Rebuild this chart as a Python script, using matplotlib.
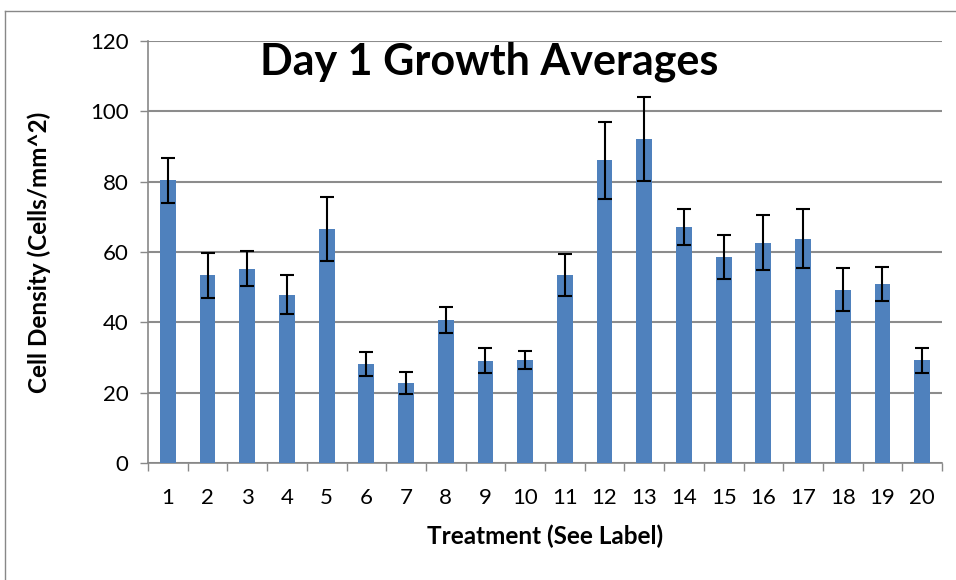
import numpy as np
import matplotlib.pyplot as plt
from matplotlib.lines import Line2D

plt.rcParams['font.family'] = ['Lato', 'DejaVu Sans']

treatments = list(range(1, 21))
means = [80.4, 53.4, 55.3, 47.9, 66.6, 28.2, 22.8, 40.8, 29.1, 29.3,
         53.5, 86.1, 92.1, 67.1, 58.6, 62.6, 63.8, 49.3, 50.9, 29.2]
errors = [6.4, 6.4, 5.1, 5.6, 9.1, 3.4, 3.1, 3.7, 3.5, 2.6,
          6.0, 11.0, 12.0, 5.1, 6.2, 7.8, 8.3, 6.2, 4.7, 3.6]
yticks = [0, 20, 40, 60, 80, 100, 120]

fig = plt.figure(figsize=(9.56, 5.8), dpi=100)
ax = fig.add_axes([148/956, 1-463/580, (942-148)/956, (463-41)/580])

ax.bar(treatments, means, width=0.4, color='#4F81BD', zorder=3)
ax.errorbar(treatments, means, yerr=errors, fmt='none', ecolor='black',
            elinewidth=1.5, capsize=5, capthick=1.5, zorder=4)

ax.set_xlim(0.5, 20.5)
ax.set_ylim(0, 120)
ax.set_yticks(yticks)
ax.set_xticks(treatments)
ax.set_xticks(np.arange(0.5, 21, 1), minor=True)
ax.tick_params(axis='x', which='major', length=0, labelsize=16, pad=18)
ax.tick_params(axis='x', which='minor', length=6, color='#888888', width=1)
ax.tick_params(axis='y', length=6, color='#888888', width=1, labelsize=16, pad=8)
ax.grid(axis='y', color='#8c8c8c', linewidth=1.5, zorder=0)
for s in ['top', 'right']:
    ax.spines[s].set_visible(False)
for s in ['left', 'bottom']:
    ax.spines[s].set_color('#888888')
    ax.spines[s].set_linewidth(1.2)

ax.set_xlabel('Treatment (See Label)', fontsize=17.5, fontweight='bold', labelpad=12)
ax.set_ylabel('Cell Density (Cells/mm^2)', fontsize=17.5, fontweight='bold', labelpad=28)
ax.text(0.43, 0.95, 'Day 1 Growth Averages', transform=ax.transAxes,
        ha='center', va='center', fontsize=31, fontweight='bold')

# outer chart border (cut off on right and bottom)
fig.add_artist(Line2D([5/956, 1], [1-11/580, 1-11/580], color='#888888', lw=1,
                      transform=fig.transFigure))
fig.add_artist(Line2D([5/956, 5/956], [0, 1-11/580], color='#888888', lw=1,
                      transform=fig.transFigure))

fig.savefig('out.png', dpi=100)
